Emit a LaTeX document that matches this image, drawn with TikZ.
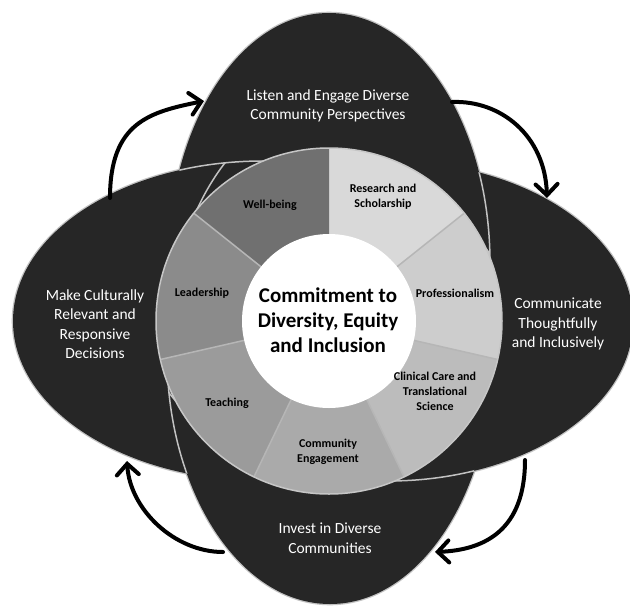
\documentclass[tikz,border=0pt]{standalone}
\usepackage{fontspec}
\setmainfont{Carlito}
\usetikzlibrary{arrows.meta}

\definecolor{petalfill}{HTML}{262626}
\definecolor{petalrim}{HTML}{C2C2C2}
\definecolor{ringrim}{HTML}{C6C6C6}
\definecolor{ringsep}{HTML}{B6B6B6}
\definecolor{segA}{HTML}{D9D9D9}
\definecolor{segB}{HTML}{CDCDCD}
\definecolor{segC}{HTML}{BCBCBC}
\definecolor{segD}{HTML}{AAAAAA}
\definecolor{segE}{HTML}{9B9B9B}
\definecolor{segF}{HTML}{8B8B8B}
\definecolor{segG}{HTML}{707070}

\begin{document}
\begin{tikzpicture}[x=1pt,y=-1pt,
  petaledge/.style={fill=petalfill,draw=petalrim,line width=2.6pt},
  petalbody/.style={fill=petalfill},
  petalline/.style={draw=petalrim,line width=1.5pt},
  petaltext/.style={text=white,font=\fontsize{15.5}{19.5}\selectfont,align=center,inner sep=0pt},
  segtext/.style={text=black,font=\bfseries\fontsize{12}{15}\selectfont,align=center,inner sep=0pt},
  coretext/.style={text=black,font=\bfseries\fontsize{21}{25}\selectfont,align=center,inner sep=0pt},
  cyclearrow/.style={line width=4pt,line cap=round,
    -{Straight Barb[length=11pt,width=22pt,line cap=round]}}]
\useasboundingbox (0,0) rectangle (630,606);
\fill[white] (0,0) rectangle (630,606);

% petal outlines against the background
\path[petaledge] (329,263) ellipse [x radius=161, y radius=250];
\path[petaledge] (388,321) ellipse [x radius=245, y radius=160];
\path[petaledge] (330,354) ellipse [x radius=163, y radius=250];
\path[petaledge] (263,321) ellipse [x radius=250, y radius=160];
% petal bodies
\path[petalbody] (329,263) ellipse [x radius=161, y radius=250];
\path[petalbody] (388,321) ellipse [x radius=245, y radius=160];
\path[petalbody] (330,354) ellipse [x radius=163, y radius=250];
\path[petalbody] (263,321) ellipse [x radius=250, y radius=160];

% overlapping edges: left over top
\begin{scope}
  \clip (329,263) ellipse [x radius=161, y radius=250];
  \clip (0,0) rectangle (630,321);
  \path[petalline] (263,321) ellipse [x radius=250, y radius=160];
\end{scope}
% top over right
\begin{scope}
  \clip (388,321) ellipse [x radius=245, y radius=160];
  \clip (329,0) rectangle (630,321);
  \path[petalline] (329,263) ellipse [x radius=161, y radius=250];
\end{scope}
% right over bottom
\begin{scope}
  \clip (330,354) ellipse [x radius=163, y radius=250];
  \clip (0,321) rectangle (630,606);
  \path[petalline] (388,321) ellipse [x radius=245, y radius=160];
\end{scope}
% bottom over left
\begin{scope}
  \clip (263,321) ellipse [x radius=250, y radius=160];
  \clip (0,0) rectangle (329,606);
  \path[petalline] (330,354) ellipse [x radius=163, y radius=250];
\end{scope}

% segmented ring
\begin{scope}[shift={(329,321)}]
  \foreach \a/\col in {-90/segA,-38.571/segB,12.857/segC,64.286/segD,
                       115.714/segE,167.143/segF,218.571/segG}{
    \fill[\col] (0,0) -- (\a:173)
      arc[start angle=\a, end angle=\a+51.4286, radius=173] -- cycle;
  }
  \foreach \a in {-38.571,12.857,64.286,115.714,167.143,218.571}{
    \draw[ringsep,line width=1.5pt] (\a:87) -- (\a:173);
  }
  \draw[ringrim,line width=1.5pt] (0,0) circle [radius=173];
  \fill[white] (0,0) circle [radius=87];
\end{scope}

% labels
\node[coretext] (core) at (328,320) {Commitment to\\Diversity, Equity\\and Inclusion};
\node[segtext] (research) at (383,197) {Research and\\Scholarship};
\node[segtext] (profess) at (455,293) {Professionalism};
\node[segtext] (clinical) at (435,391) {Clinical Care and\\Translational\\Science};
\node[segtext] (community) at (328,452) {Community\\Engagement};
\node[segtext] (teaching) at (227,403) {Teaching};
\node[segtext] (leadership) at (202,293) {Leadership};
\node[segtext] (wellbeing) at (270,205) {Well-being};

\node[petaltext] (listen) at (328,106) {Listen and Engage Diverse\\Community Perspectives};
\node[petaltext] (communicate) at (558,324) {Communicate\\Thoughtfully\\and Inclusively};
\node[petaltext] (invest) at (330,538) {Invest in Diverse\\Communities};
\node[petaltext] (decide) at (95,324) {Make Culturally\\Relevant and\\Responsive\\Decisions};

% cycle arrows between the petals
\coordinate (tlA) at (110,198);
\coordinate (tlB) at (204,101);
\coordinate (trA) at (452,102);
\coordinate (trB) at (547,198);
\coordinate (brA) at (525,460);
\coordinate (brB) at (435,552);
\coordinate (blA) at (223,552);
\coordinate (blB) at (127,461);

\draw[cyclearrow] (tlA) .. controls (110,122) and (150,112) .. (tlB);
\draw[cyclearrow] (trA) .. controls (500,100) and (545,135) .. (trB);
\draw[cyclearrow] (brA) .. controls (525,530) and (485,550) .. (brB);
\draw[cyclearrow] (blA) .. controls (175,552) and (130,510) .. (blB);
\end{tikzpicture}
\end{document}
